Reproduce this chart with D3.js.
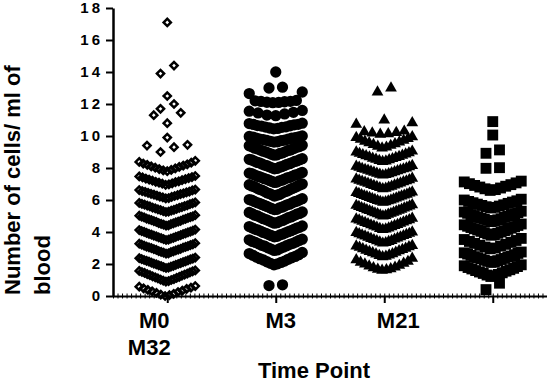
<!DOCTYPE html>
<html>
<head>
<meta charset="utf-8">
<script src="https://cdn.jsdelivr.net/npm/d3@7"></script>
<style>
  body { margin: 0; background: #fff; }
  svg text { font-family: "Liberation Sans", Arial, sans-serif; font-weight: bold; fill: #000; }
</style>
</head>
<body>
<script>
  /* DATA (cells / ml of blood) */
  var categories = ["M0", "M3", "M21", "M32"];
  var tickLabels = [["M0", "M32"], ["M3"], ["M21"], []];
  var yTicks = [0, 2, 4, 6, 8, 10, 12, 14, 16, 18];

  var m0 = [
    0.00, 0.05, 0.09, 0.14, 0.19, 0.25, 0.29, 0.33, 0.38, 0.44, 0.48, 0.52, 0.58, 0.62,
    0.90, 0.93, 0.96, 1.00, 1.03, 1.06, 1.10, 1.13, 1.17, 1.19, 1.23, 1.27, 1.30, 1.34, 1.36, 1.40, 1.44, 1.47, 1.50, 1.54, 1.57, 1.60,
    1.75, 1.78, 1.80, 1.83, 1.87, 1.89, 1.92, 1.95, 1.98, 2.00, 2.03, 2.06, 2.08, 2.11, 2.15, 2.17, 2.20, 2.22, 2.25, 2.29, 2.31, 2.34, 2.36, 2.40,
    2.65, 2.67, 2.71, 2.74, 2.76, 2.79, 2.81, 2.85, 2.88, 2.90, 2.93, 2.95, 2.99, 3.02, 3.04, 3.07, 3.09, 3.12, 3.15, 3.18, 3.21, 3.23, 3.27, 3.30,
    3.50, 3.52, 3.56, 3.59, 3.61, 3.64, 3.66, 3.70, 3.73, 3.75, 3.78, 3.80, 3.84, 3.87, 3.89, 3.92, 3.94, 3.98, 4.01, 4.03, 4.06, 4.08, 4.12, 4.15,
    4.40, 4.42, 4.46, 4.49, 4.51, 4.54, 4.56, 4.60, 4.63, 4.65, 4.68, 4.70, 4.74, 4.77, 4.79, 4.82, 4.84, 4.88, 4.91, 4.93, 4.96, 4.98, 5.02, 5.05,
    5.25, 5.28, 5.30, 5.34, 5.37, 5.39, 5.42, 5.44, 5.48, 5.51, 5.53, 5.56, 5.60, 5.62, 5.65, 5.67, 5.71, 5.74, 5.76, 5.79, 5.82, 5.85,
    6.10, 6.12, 6.16, 6.19, 6.21, 6.25, 6.28, 6.30, 6.33, 6.37, 6.39, 6.42, 6.45, 6.47, 6.51, 6.53, 6.56, 6.60, 6.62, 6.65,
    6.95, 6.98, 7.02, 7.04, 7.08, 7.12, 7.14, 7.17, 7.21, 7.24, 7.28, 7.30, 7.34, 7.37, 7.41, 7.43, 7.47, 7.50,
    7.80, 7.85, 7.88, 7.93, 7.97, 8.02, 8.07, 8.10, 8.15, 8.20, 8.23, 8.28, 8.33, 8.38, 8.45,
    9.00, 9.30, 9.40, 9.45, 9.90, 10.80, 11.30, 11.45, 11.70, 12.00, 12.50, 13.90, 14.40, 17.10
  ];

  var m3 = [
    0.65, 0.70,
    1.95, 2.01, 2.04, 2.10, 2.14, 2.18, 2.25, 2.29, 2.33, 2.39, 2.43, 2.47, 2.54, 2.58, 2.65, 2.72,
    2.85, 2.88, 2.93, 2.98, 3.01, 3.06, 3.11, 3.14, 3.17, 3.23, 3.26, 3.29, 3.35, 3.38, 3.41, 3.47, 3.51, 3.55,
    3.70, 3.73, 3.77, 3.82, 3.84, 3.87, 3.92, 3.95, 3.97, 4.02, 4.06, 4.08, 4.13, 4.16, 4.18, 4.24, 4.26, 4.29, 4.34, 4.38,
    4.55, 4.58, 4.62, 4.67, 4.70, 4.72, 4.78, 4.81, 4.83, 4.89, 4.92, 4.94, 5.00, 5.03, 5.05, 5.11, 5.14, 5.16, 5.22, 5.25,
    5.40, 5.42, 5.46, 5.51, 5.53, 5.55, 5.60, 5.62, 5.66, 5.70, 5.72, 5.74, 5.79, 5.82, 5.84, 5.89, 5.91, 5.93, 5.99, 6.01, 6.03, 6.08,
    6.25, 6.30, 6.32, 6.35, 6.40, 6.43, 6.45, 6.51, 6.54, 6.56, 6.62, 6.64, 6.67, 6.72, 6.75, 6.78, 6.83, 6.86, 6.88, 6.94, 6.96, 7.00,
    7.10, 7.12, 7.16, 7.20, 7.22, 7.24, 7.29, 7.31, 7.33, 7.38, 7.40, 7.41, 7.46, 7.48, 7.50, 7.55, 7.57, 7.59, 7.64, 7.66, 7.68, 7.72,
    7.95, 7.97, 8.01, 8.05, 8.07, 8.09, 8.14, 8.16, 8.18, 8.23, 8.25, 8.27, 8.32, 8.34, 8.36, 8.41, 8.43, 8.45, 8.50, 8.52, 8.54, 8.58,
    8.80, 8.82, 8.86, 8.91, 8.93, 8.95, 9.00, 9.03, 9.05, 9.10, 9.12, 9.14, 9.20, 9.22, 9.24, 9.29, 9.32, 9.34, 9.39, 9.42,
    9.62, 9.64, 9.67, 9.71, 9.72, 9.74, 9.78, 9.80, 9.81, 9.86, 9.87, 9.89, 9.93, 9.95, 9.97, 10.00,
    10.45, 10.47, 10.50, 10.54, 10.56, 10.57, 10.62, 10.64, 10.65, 10.70, 10.72, 10.73, 10.78, 10.80,
    11.27, 11.31, 11.38, 11.44, 11.48, 11.55, 11.60,
    12.08, 12.10, 12.11, 12.14, 12.16, 12.17, 12.20, 12.22, 12.65, 12.75,
    13.00, 13.05, 14.00
  ];

  var m21 = [
    1.60, 1.63, 1.67, 1.70, 1.76, 1.80, 1.87, 1.91, 1.99, 2.04, 2.11, 2.16, 2.26, 2.35,
    2.45, 2.48, 2.53, 2.56, 2.62, 2.64, 2.70, 2.73, 2.78, 2.82, 2.86, 2.90, 2.95, 2.98, 3.04, 3.07, 3.12, 3.15,
    3.30, 3.33, 3.37, 3.40, 3.45, 3.47, 3.52, 3.55, 3.59, 3.62, 3.67, 3.69, 3.74, 3.77, 3.81, 3.84, 3.89, 3.91, 3.96, 4.00,
    4.15, 4.18, 4.22, 4.25, 4.30, 4.32, 4.37, 4.40, 4.44, 4.47, 4.52, 4.54, 4.59, 4.62, 4.66, 4.69, 4.74, 4.76, 4.81, 4.85,
    5.00, 5.03, 5.06, 5.10, 5.13, 5.16, 5.19, 5.23, 5.26, 5.29, 5.33, 5.36, 5.39, 5.42, 5.46, 5.49, 5.52, 5.55, 5.59, 5.62, 5.66, 5.70,
    5.85, 5.88, 5.91, 5.94, 5.97, 6.00, 6.03, 6.06, 6.09, 6.12, 6.15, 6.18, 6.21, 6.24, 6.27, 6.30, 6.33, 6.36, 6.40, 6.43, 6.46, 6.50,
    6.70, 6.73, 6.77, 6.80, 6.84, 6.86, 6.90, 6.93, 6.97, 7.00, 7.04, 7.06, 7.10, 7.13, 7.17, 7.19, 7.23, 7.26, 7.31, 7.35,
    7.55, 7.58, 7.61, 7.64, 7.67, 7.70, 7.73, 7.76, 7.79, 7.82, 7.85, 7.88, 7.91, 7.94, 7.97, 8.00, 8.04, 8.07, 8.11, 8.15,
    8.40, 8.43, 8.47, 8.51, 8.54, 8.58, 8.61, 8.65, 8.69, 8.72, 8.76, 8.79, 8.83, 8.87, 8.91, 8.95, 9.00, 9.05,
    9.25, 9.30, 9.35, 9.41, 9.46, 9.51, 9.57, 9.62, 9.67, 9.73, 9.79, 9.84, 9.90, 9.95,
    10.10, 10.14, 10.18, 10.22, 10.26, 10.30, 10.73, 10.82,
    11.00, 12.75, 13.00
  ];

  var m32 = [
    0.40, 0.80,
    1.22, 1.26, 1.31, 1.35, 1.41, 1.45, 1.50, 1.55, 1.59, 1.64, 1.69, 1.73, 1.78, 1.84, 1.89, 1.95,
    2.10, 2.13, 2.17, 2.21, 2.24, 2.28, 2.32, 2.35, 2.39, 2.43, 2.46, 2.50, 2.54, 2.58, 2.62, 2.66, 2.70, 2.75,
    2.95, 3.00, 3.06, 3.12, 3.17, 3.23, 3.29, 3.35, 3.41, 3.47, 3.53, 3.60,
    3.80, 3.83, 3.88, 3.92, 3.96, 4.00, 4.04, 4.08, 4.12, 4.16, 4.20, 4.24, 4.28, 4.32, 4.36, 4.41, 4.45, 4.50,
    4.65, 4.68, 4.72, 4.76, 4.79, 4.83, 4.87, 4.91, 4.94, 4.98, 5.02, 5.06, 5.09, 5.13, 5.17, 5.21, 5.25, 5.30,
    5.50, 5.54, 5.58, 5.62, 5.66, 5.70, 5.74, 5.79, 5.83, 5.87, 5.91, 5.95, 6.00, 6.05,
    6.60, 6.65, 6.70, 6.75, 6.81, 6.86, 6.91, 6.96, 7.02, 7.07, 7.13, 7.18,
    7.98, 8.02, 8.92, 9.13, 10.06, 10.90
  ];

  var series = [m0, m3, m21, m32];

  /* DEFINE DIMENSIONS AND GENERATE SVG */
  var width = 547;
  var height = 383;
  var margin = {
    top: 8,
    left: 113,
    right: 0,
    bottom: 87
  };

  var svg = d3.select("body")
    .append("svg")
    .attr("width", width)
    .attr("height", height);

  var xScale = d3.scalePoint()
    .domain(categories)
    .range([margin.left, width - margin.right])
    .padding(0.5);

  var yScale = d3.scaleLinear()
    .domain([0, 18])
    .range([height - margin.bottom, margin.top]);

  // marker look per column
  var markers = [
    { type: d3.symbolSquare, size: 26, rotate: 45, fill: "none", stroke: "#000", sw: 2.5, spread: 56 },
    { type: d3.symbolCircle, size: 100, rotate: 0, fill: "#000", stroke: "none", sw: 0, spread: 53 },
    { type: d3.symbolTriangle, size: 60, rotate: 0, fill: "#000", stroke: "none", sw: 0, spread: 56 },
    { type: d3.symbolSquare, size: 118, rotate: 0, fill: "#000", stroke: "none", sw: 0, spread: 57 }
  ];
  var binHeight = 0.8;   // values closer than this share a row
  var maxStep = 13.5;

  // Prism-like scatter: rows of close values, lowest in the middle, spreading outwards
  function scatterLayout(values, spread) {
    var sorted = values.slice().sort(d3.ascending);
    var rows = [];
    var cur = null;
    sorted.forEach(function(v) {
      if (!cur || v >= cur.start + binHeight) {
        cur = { start: v, vals: [] };
        rows.push(cur);
      }
      cur.vals.push(v);
    });
    var pts = [];
    rows.forEach(function(r) {
      var n = r.vals.length;
      var step = n > 1 ? Math.min(maxStep, spread / (n - 1)) : 0;
      r.vals.forEach(function(v, i) {
        var k;
        if (n % 2) {
          k = i === 0 ? 0 : (i % 2 ? -1 : 1) * Math.ceil(i / 2);
        } else {
          k = (i % 2 ? 1 : -1) * (Math.floor(i / 2) + 0.5);
        }
        pts.push({ value: v, dx: k * step });
      });
    });
    return pts;
  }

  // Draw the points
  series.forEach(function(vals, ci) {
    var m = markers[ci];
    var sym = d3.symbol().type(m.type).size(m.size);
    svg.append("g")
      .selectAll("path")
      .data(scatterLayout(vals, m.spread))
      .enter()
      .append("path")
      .attr("d", sym)
      .attr("transform", function(d) {
        return "translate(" + (xScale(categories[ci]) + d.dx) + "," + yScale(d.value) + ") rotate(" + m.rotate + ")";
      })
      .attr("fill", m.fill)
      .attr("stroke", m.stroke)
      .attr("stroke-width", m.sw);
  });

  // y axis (labels drawn separately so they keep the heavy spaced look)
  var yAxis = svg.append("g")
    .attr("transform", "translate(" + margin.left + ",0)")
    .call(d3.axisLeft(yScale).tickValues(yTicks).tickSize(7).tickSizeOuter(0).tickFormat(""));
  yAxis.select(".domain").attr("stroke-width", 2.5);
  yAxis.selectAll(".tick line").attr("stroke-width", 2);

  svg.append("g")
    .selectAll("text")
    .data(yTicks)
    .enter()
    .append("text")
    .attr("x", margin.left - 10)
    .attr("y", function(d) { return yScale(d); })
    .attr("dy", "0.36em")
    .attr("text-anchor", "end")
    .attr("font-size", 15)
    .attr("font-weight", "bold")
    .attr("letter-spacing", 3)
    .text(function(d) { return d; });

  // x axis: small minor marks along the line, then the category ticks
  var minorScale = d3.scaleLinear().domain([0, 96]).range([margin.left, width - margin.right]);
  var minor = svg.append("g")
    .attr("transform", "translate(0," + yScale(0) + ")")
    .call(d3.axisBottom(minorScale).ticks(96).tickSize(2).tickSizeOuter(0).tickFormat(""));
  minor.select(".domain").attr("stroke-width", 2);
  minor.selectAll(".tick line").attr("y1", -2.5).attr("y2", 2.5).attr("stroke-width", 1);

  var xAxis = svg.append("g")
    .attr("transform", "translate(0," + yScale(0) + ")")
    .call(d3.axisBottom(xScale).tickSize(7).tickSizeOuter(0).tickFormat(""));
  xAxis.select(".domain").remove();
  xAxis.selectAll(".tick line").attr("stroke-width", 2);

  // category labels (first tick carries two lines, last one none)
  var labelShift = [-13, 5, 14, 0];
  var lineShift = [0, -5];
  tickLabels.forEach(function(lines, i) {
    lines.forEach(function(t, j) {
      svg.append("text")
        .attr("x", xScale(categories[i]) + labelShift[i] + lineShift[j])
        .attr("y", 328 + j * 27)
        .attr("text-anchor", "middle")
        .style("font-size", "22px")
        .text(t);
    });
  });

  // axis titles
  svg.append("text")
    .attr("x", 314)
    .attr("y", 378)
    .attr("text-anchor", "middle")
    .style("font-size", "22px")
    .text("Time Point");

  var yTitle = svg.append("text")
    .attr("transform", "translate(0," + (yScale(0) - 1) + ") rotate(-90)")
    .style("font-size", "22px");
  yTitle.append("tspan").attr("x", 0).attr("y", 20).text("Number of cells/ ml of");
  yTitle.append("tspan").attr("x", 0).attr("y", 50).text("blood");
</script>
</body>
</html>
